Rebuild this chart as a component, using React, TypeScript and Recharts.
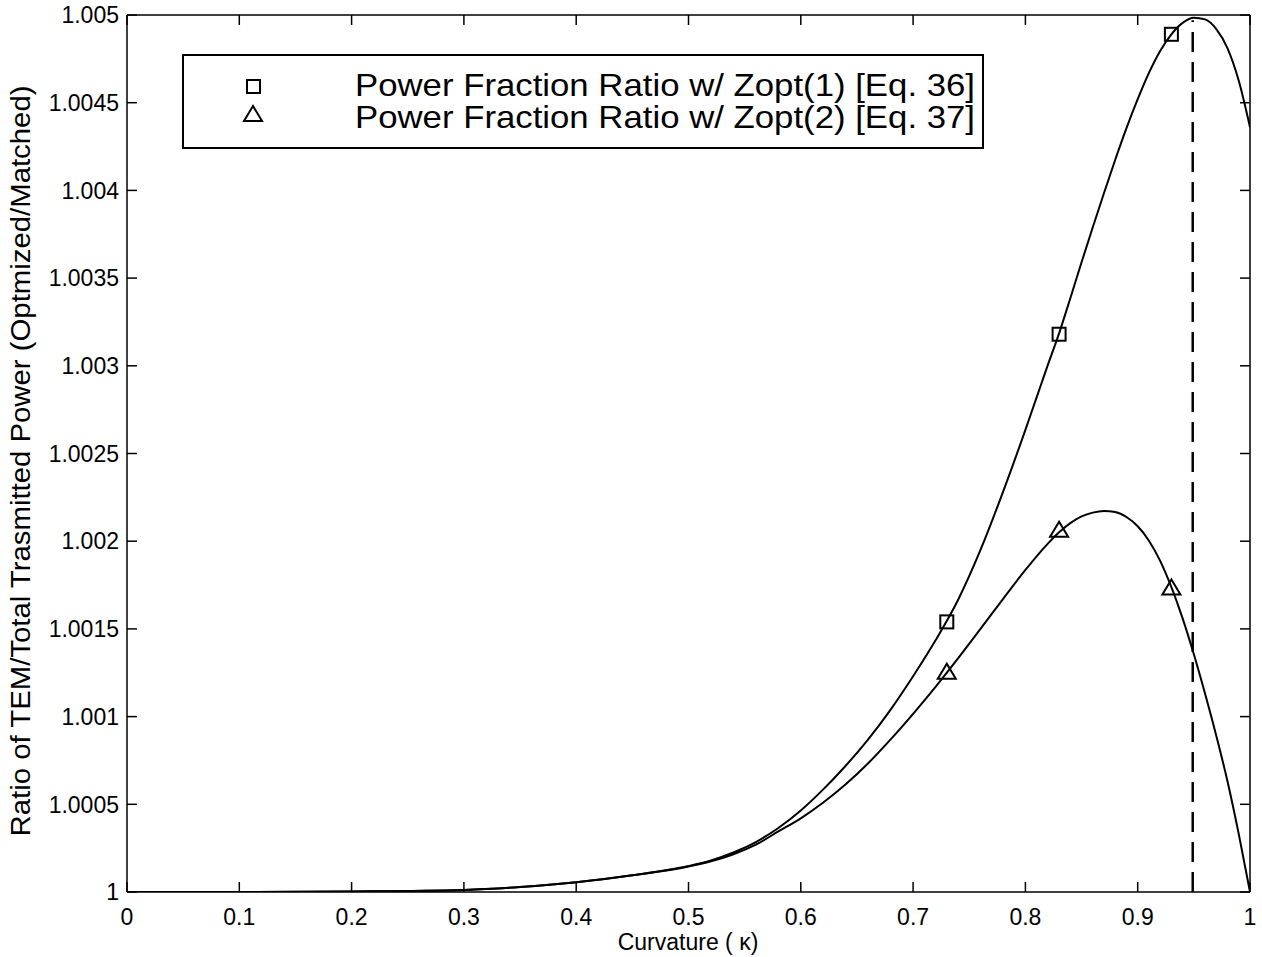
import React from "react";
import { ComposedChart, Line, XAxis, YAxis, ReferenceLine, Customized } from "recharts";

const X_VALUES = [0, 0.1, 0.2, 0.3, 0.35, 0.4, 0.45, 0.5, 0.52, 0.54, 0.56, 0.58, 0.6, 0.62, 0.64, 0.66, 0.68, 0.7, 0.72, 0.74, 0.76, 0.78, 0.8, 0.81, 0.82, 0.83, 0.84, 0.85, 0.86, 0.87, 0.88, 0.89, 0.9, 0.91, 0.92, 0.93, 0.94, 0.95, 0.96, 0.97, 0.98, 0.99, 1.0];
const CURVE1 = [1.0, 1.0, 1.000003, 1.000012, 1.000028, 1.000055, 1.000095, 1.000148, 1.00018, 1.000225, 1.000285, 1.000365, 1.000465, 1.000585, 1.00072, 1.00087, 1.00104, 1.00123, 1.001435, 1.001665, 1.00195, 1.00228, 1.002635, 1.00282, 1.003005, 1.003185, 1.003385, 1.00359, 1.00379, 1.003985, 1.004175, 1.004355, 1.00452, 1.00467, 1.004795, 1.00489, 1.004955, 1.004985, 1.004975, 1.00492, 1.00481, 1.004625, 1.00436];
const CURVE2 = [1.0, 1.0, 1.000003, 1.000012, 1.000028, 1.000055, 1.000095, 1.000145, 1.000175, 1.000215, 1.00027, 1.000345, 1.00042, 1.00051, 1.000614, 1.000734, 1.00087, 1.001016, 1.00117, 1.001332, 1.0015, 1.00167, 1.001836, 1.001914, 1.001986, 1.002051, 1.002103, 1.002141, 1.002163, 1.002172, 1.002166, 1.002138, 1.002085, 1.002003, 1.001888, 1.001738, 1.00156, 1.001355, 1.00113, 1.00089, 1.00063, 1.00033, 1.0];

const MARKER_X = [0.73, 0.83, 0.93];
const SQUARE_Y = [1.00154, 1.00318, 1.00489];
const TRIANGLE_Y = [1.00125, 1.00206, 1.00173];

const X_TICKS = [0, 0.1, 0.2, 0.3, 0.4, 0.5, 0.6, 0.7, 0.8, 0.9, 1];
const X_TICK_LABELS = ["0", "0.1", "0.2", "0.3", "0.4", "0.5", "0.6", "0.7", "0.8", "0.9", "1"];
const Y_TICKS = [1, 1.0005, 1.001, 1.0015, 1.002, 1.0025, 1.003, 1.0035, 1.004, 1.0045, 1.005];
const Y_TICK_LABELS = ["1", "1.0005", "1.001", "1.0015", "1.002", "1.0025", "1.003", "1.0035", "1.004", "1.0045", "1.005"];

const X_MIN = 0;
const X_MAX = 1;
const Y_MIN = 1;
const Y_MAX = 1.005;

const DASH_X = 0.949;
const DASH_TOP = 1.00497;

const LEGEND_LABELS = ["Power Fraction Ratio w/ Zopt(1) [Eq. 36]", "Power Fraction Ratio w/ Zopt(2) [Eq. 37]"];
const X_LABEL = "Curvature ( \u03ba)";
const Y_LABEL = "Ratio of TEM/Total Trasmitted Power (Optmized/Matched)";

const FONT = "'Liberation Sans', Arial, Helvetica, sans-serif";

// tick mark length expressed in axis units (~10px)
const TICK_DX = 0.0089;
const TICK_DY = 0.000057;

const curve1 = X_VALUES.map((x, i) => ({ x, y: CURVE1[i] }));
const curve2 = X_VALUES.map((x, i) => ({ x, y: CURVE2[i] }));
const squares = MARKER_X.map((x, i) => ({ x, y: SQUARE_Y[i] }));
const triangles = MARKER_X.map((x, i) => ({ x, y: TRIANGLE_Y[i] }));

const LeftTick = (p: any) => (
  <text x={p.x - 8} y={p.y} dy="0.36em" textAnchor="end" fontFamily={FONT} fontSize={23} fill="#000">
    {Y_TICK_LABELS[p.index]}
  </text>
);
const BottomTick = (p: any) => (
  <text x={p.x} y={p.y + 25} dy="0.36em" textAnchor="middle" fontFamily={FONT} fontSize={23} fill="#000">
    {X_TICK_LABELS[p.index]}
  </text>
);

const squareDot = (p: any) => (
  <rect key={`s${p.index}`} x={p.cx - 6.5} y={p.cy - 6.5} width={13} height={13} fill="none" stroke="#000" strokeWidth={2} />
);
const triangleDot = (p: any) => (
  <polygon
    key={`t${p.index}`}
    points={`${p.cx},${p.cy - 9} ${p.cx - 9},${p.cy + 6} ${p.cx + 9},${p.cy + 6}`}
    fill="none"
    stroke="#000"
    strokeWidth={2}
  />
);

const LegendBox = () => (
  <g>
    <rect x={183} y={55} width={800} height={93} fill="#fff" stroke="#000" strokeWidth={2} />
    <rect x={247} y={80} width={13} height={13} fill="none" stroke="#000" strokeWidth={2} />
    <polygon points="253,106 244,121 262,121" fill="none" stroke="#000" strokeWidth={2} />
    <text x={355} y={96} fontFamily={FONT} fontSize={32} textLength={620} lengthAdjust="spacingAndGlyphs" fill="#000">
      {LEGEND_LABELS[0]}
    </text>
    <text x={355} y={128} fontFamily={FONT} fontSize={32} textLength={620} lengthAdjust="spacingAndGlyphs" fill="#000">
      {LEGEND_LABELS[1]}
    </text>
    <text x={688} y={942} dy="0.36em" textAnchor="middle" fontFamily={FONT} fontSize={23} fill="#000">
      {X_LABEL}
    </text>
    <text
      x={20}
      y={461}
      transform="rotate(-90 20 461)"
      dy="0.36em"
      textAnchor="middle"
      fontFamily={FONT}
      fontSize={27}
      textLength={751}
      lengthAdjust="spacingAndGlyphs"
      fill="#000"
    >
      {Y_LABEL}
    </text>
  </g>
);

const tickStyle = { stroke: "#000", strokeWidth: 1.5 };

export default function App() {
  return (
    <div style={{ position: "absolute", left: 0, top: 0, width: 1262, height: 957, background: "#fff" }}>
      <ComposedChart width={1262} height={957} margin={{ top: 15, right: 12, bottom: 0, left: 0 }}>
        <XAxis
          xAxisId="b"
          dataKey="x"
          type="number"
          domain={[X_MIN, X_MAX]}
          ticks={X_TICKS}
          height={65}
          tickSize={0}
          tickMargin={0}
          tickLine={false}
          tick={BottomTick}
          axisLine={{ stroke: "#000", strokeWidth: 1.5 }}
          interval={0}
          allowDataOverflow
        />
        <YAxis
          yAxisId="l"
          type="number"
          domain={[Y_MIN, Y_MAX]}
          ticks={Y_TICKS}
          width={127}
          tickSize={0}
          tickMargin={0}
          tickLine={false}
          tick={LeftTick}
          axisLine={{ stroke: "#000", strokeWidth: 1.5 }}
          interval={0}
          allowDataOverflow
        />
        {/* frame: top and right edges */}
        <ReferenceLine xAxisId="b" yAxisId="l" y={Y_MAX} stroke="#000" strokeWidth={1.5} ifOverflow="visible" />
        <ReferenceLine xAxisId="b" yAxisId="l" x={X_MAX} stroke="#000" strokeWidth={1.5} ifOverflow="visible" />
        {/* inward tick marks on all four sides */}
        {Y_TICKS.map((v) => (
          <ReferenceLine
            key={`yl${v}`}
            xAxisId="b"
            yAxisId="l"
            segment={[{ x: X_MIN, y: v }, { x: X_MIN + TICK_DX, y: v }]}
            {...tickStyle}
            ifOverflow="visible"
          />
        ))}
        {Y_TICKS.map((v) => (
          <ReferenceLine
            key={`yr${v}`}
            xAxisId="b"
            yAxisId="l"
            segment={[{ x: X_MAX - TICK_DX, y: v }, { x: X_MAX, y: v }]}
            {...tickStyle}
            ifOverflow="visible"
          />
        ))}
        {X_TICKS.map((v) => (
          <ReferenceLine
            key={`xb${v}`}
            xAxisId="b"
            yAxisId="l"
            segment={[{ x: v, y: Y_MIN }, { x: v, y: Y_MIN + TICK_DY }]}
            {...tickStyle}
            ifOverflow="visible"
          />
        ))}
        {X_TICKS.map((v) => (
          <ReferenceLine
            key={`xt${v}`}
            xAxisId="b"
            yAxisId="l"
            segment={[{ x: v, y: Y_MAX - TICK_DY }, { x: v, y: Y_MAX }]}
            {...tickStyle}
            ifOverflow="visible"
          />
        ))}
        <ReferenceLine
          xAxisId="b"
          yAxisId="l"
          segment={[{ x: DASH_X, y: Y_MIN }, { x: DASH_X, y: DASH_TOP }]}
          stroke="#000"
          strokeWidth={2.5}
          strokeDasharray="20 10"
          ifOverflow="visible"
        />
        <Line xAxisId="b" yAxisId="l" data={curve1} dataKey="y" type="monotone" stroke="#000" strokeWidth={2} dot={false} activeDot={false} isAnimationActive={false} />
        <Line xAxisId="b" yAxisId="l" data={curve2} dataKey="y" type="monotone" stroke="#000" strokeWidth={2} dot={false} activeDot={false} isAnimationActive={false} />
        <Line xAxisId="b" yAxisId="l" data={squares} dataKey="y" stroke="none" dot={squareDot} activeDot={false} isAnimationActive={false} />
        <Line xAxisId="b" yAxisId="l" data={triangles} dataKey="y" stroke="none" dot={triangleDot} activeDot={false} isAnimationActive={false} />
        <Customized component={LegendBox} />
      </ComposedChart>
    </div>
  );
}
